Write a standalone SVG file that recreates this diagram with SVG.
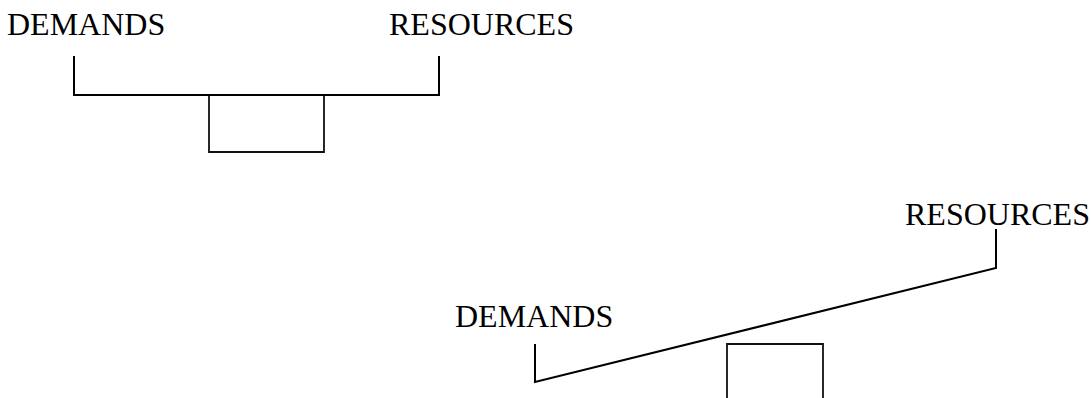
<svg xmlns="http://www.w3.org/2000/svg" width="1091" height="398" viewBox="0 0 1091 398">
<style>
text{font-family:"Liberation Serif","Times New Roman",serif;font-size:32px;fill:#000}
.ln{fill:none;stroke:#000;stroke-width:2}
.bx{fill:none;stroke:#111;stroke-width:1.8}
</style>
<rect width="1091" height="398" fill="#fff"/>
<g id="top-demands"><text x="7" y="35">DEMANDS</text></g>
<g id="top-resources"><text x="389" y="35">RESOURCES</text></g>
<g id="top-fulcrum"><path class="bx" d="M209,95 V152 H324 V95"/></g>
<g id="bottom-demands"><text x="455" y="327">DEMANDS</text></g>
<g id="bottom-resources"><text x="905" y="225">RESOURCES</text></g>
<g id="bottom-fulcrum"><path class="bx" d="M727,400 V344 H823 V400"/></g>
<g id="connectors">
<path class="ln" d="M74,56 V95 H439 V56"/>
<path class="ln" d="M535,344 V382 L996,268 V229"/>
</g>
</svg>
